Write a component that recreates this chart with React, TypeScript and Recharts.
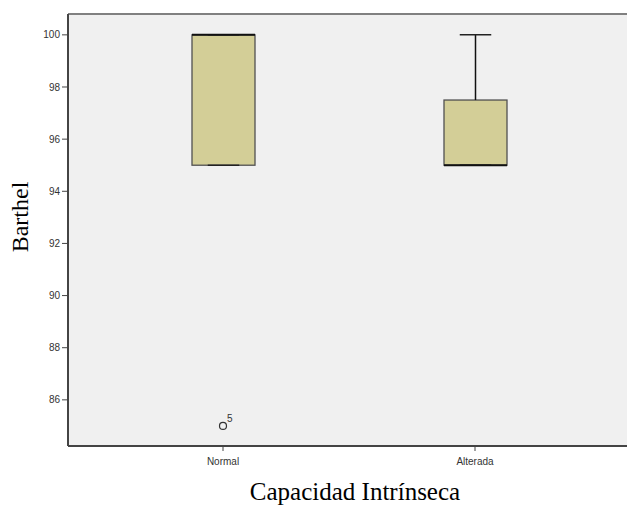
import { ComposedChart, Bar, Scatter, XAxis, YAxis, CartesianGrid, ReferenceLine } from 'recharts';

const categories = ['Normal', 'Alterada'];
const whiskerLow = [95, 95];
const q1 = [95, 95];
const median = [100, 95];
const q3 = [100, 97.5];
const whiskerHigh = [100, 100];
const outliers = [85, null];
const outlierCase = ['5', null];
const yTicks = [86, 88, 90, 92, 94, 96, 98, 100];
const yDomain = [84.23, 100.8];

const data = categories.map((name, i) => ({
  name,
  upper: [q3[i], whiskerHigh[i]],
  lower: [whiskerLow[i], q1[i]],
  box: [q1[i], q3[i]],
  med: [median[i], median[i]],
  outlier: outliers[i],
  caseId: outlierCase[i],
}));

const sans = '"Liberation Sans", Arial, sans-serif';
const serif = '"Liberation Serif", "Times New Roman", serif';

// capAtTop: cap drawn at the high end (upper whisker) or low end (lower whisker)
function makeWhisker(capAtTop: boolean) {
  return function Whisker(props: any) {
    const { x, y, width, height } = props;
    if (!Number.isFinite(y)) return null;
    const cx = x + width / 2;
    const top = Math.min(y, y + (height || 0));
    const bottom = Math.max(y, y + (height || 0));
    const cap = width / 4;
    const capY = capAtTop ? top : bottom;
    return (
      <g>
        {bottom > top && <line x1={cx} x2={cx} y1={top} y2={bottom} stroke="#111" strokeWidth={1.5} />}
        <line x1={cx - cap} x2={cx + cap} y1={capY} y2={capY} stroke="#222" strokeWidth={1.5} />
      </g>
    );
  };
}
const UpperWhisker = makeWhisker(true);
const LowerWhisker = makeWhisker(false);

function Box(props: any) {
  const { x, y, width, height } = props;
  const top = Math.min(y, y + height);
  return (
    <rect x={x} y={top} width={width} height={Math.abs(height)} fill="#D3CE97" stroke="#505050" strokeWidth={1.3} />
  );
}

function Median(props: any) {
  const { x, y, width } = props;
  if (!Number.isFinite(y)) return null;
  return <line x1={x} x2={x + width} y1={y} y2={y} stroke="#111" strokeWidth={2} />;
}

function Outlier(props: any) {
  const { cx, cy, payload } = props;
  if (payload == null || payload.outlier == null || !Number.isFinite(cy)) return null;
  return (
    <g>
      <circle cx={cx} cy={cy} r={3.5} fill="none" stroke="#333" strokeWidth={1.2} />
      <text x={cx + 4} y={cy - 4} fontSize={10} fontFamily={sans} fill="#333">{payload.caseId}</text>
    </g>
  );
}

function YTitle(props: any) {
  const { viewBox } = props;
  const cx = viewBox.x + 28;
  const cy = viewBox.y + viewBox.height / 2 - 13;
  return (
    <text x={cx} y={cy} transform={`rotate(-90 ${cx} ${cy})`} textAnchor="middle" fontSize={24} fontFamily={serif} fill="#000">
      Barthel
    </text>
  );
}

function XTitle(props: any) {
  const { viewBox } = props;
  return (
    <text x={viewBox.x + viewBox.width / 2 + 6} y={viewBox.y + 54} textAnchor="middle" fontSize={25} fontFamily={serif} fill="#000">
      Capacidad Intrínseca
    </text>
  );
}

export default function App() {
  return (
    <div style={{ position: 'absolute', left: 0, top: 0, width: 627, height: 505, overflow: 'hidden', background: '#fff' }}>
      <ComposedChart
        width={632}
        height={505}
        data={data}
        margin={{ top: 14, right: 2, bottom: 0, left: 0 }}
        barSize={63}
        barGap={-63}
      >
        <CartesianGrid fill="#F0F0F0" horizontal={false} vertical={false} />
        <XAxis
          dataKey="name"
          padding={{ left: 29, right: 29 }}
          height={59}
          tickSize={5}
          tickMargin={7}
          axisLine={{ stroke: '#444', strokeWidth: 2 }}
          tickLine={{ stroke: '#444' }}
          tick={{ fontSize: 10, fontFamily: sans, fill: '#333' }}
          label={<XTitle />}
        />
        <YAxis
          width={68}
          domain={yDomain}
          ticks={yTicks}
          allowDataOverflow
          tickSize={6}
          tickMargin={2}
          axisLine={{ stroke: '#444', strokeWidth: 2 }}
          tickLine={{ stroke: '#444' }}
          tick={{ fontSize: 10, fontFamily: sans, fill: '#333' }}
          label={<YTitle />}
        />
        <ReferenceLine y={yDomain[1]} stroke="#808080" strokeWidth={2} />
        <Bar dataKey="box" shape={<Box />} isAnimationActive={false} />
        <Bar dataKey="upper" shape={<UpperWhisker />} isAnimationActive={false} />
        <Bar dataKey="lower" shape={<LowerWhisker />} isAnimationActive={false} />
        <Bar dataKey="med" shape={<Median />} isAnimationActive={false} />
        <Scatter dataKey="outlier" shape={<Outlier />} isAnimationActive={false} />
      </ComposedChart>
    </div>
  );
}
